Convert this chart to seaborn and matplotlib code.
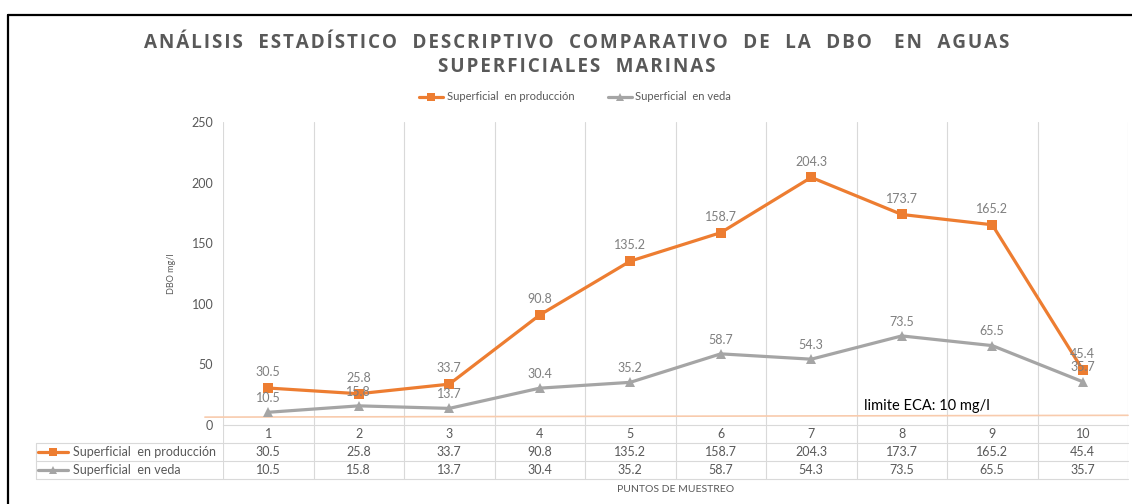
"""DBO en aguas superficiales marinas - gráfico de líneas con tabla de datos"""
import numpy as np
import pandas as pd
import matplotlib.pyplot as plt
from matplotlib.lines import Line2D
import seaborn as sns

# Datos
puntos = [1, 2, 3, 4, 5, 6, 7, 8, 9, 10]
produccion = [30.5, 25.8, 33.7, 90.8, 135.2, 158.7, 204.3, 173.7, 165.2, 45.4]
veda = [10.5, 15.8, 13.7, 30.4, 35.2, 58.7, 54.3, 73.5, 65.5, 35.7]
serie_prod = 'Superficial  en producción'
serie_veda = 'Superficial  en veda'
limite_x = [0.3, 10.5]
limite_y = [6.5, 8.0]
limite_txt = 'limite ECA: 10 mg/l'
y_ticks = [0, 50, 100, 150, 200, 250]
titulo_1 = 'ANÁLISIS  ESTADÍSTICO  DESCRIPTIVO  COMPARATIVO  DE  LA  DBO   EN  AGUAS'
titulo_2 = 'SUPERFICIALES  MARINAS'

df = pd.DataFrame({'punto': puntos * 2,
                   'dbo': produccion + veda,
                   'serie': [serie_prod] * 10 + [serie_veda] * 10})

# Estilo
sns.set_style('white')
plt.rcParams['font.family'] = ['Lato', 'DejaVu Sans']
NARANJA = '#ED7D31'
GRIS = '#A5A5A5'
TEXTO = '#595959'
REJILLA = '#D9D9D9'

W_PX, H_PX = 1132, 504
fig = plt.figure(figsize=(W_PX / 100, H_PX / 100), dpi=100)

# Posición del área de trazado (pixeles)
x0, x1, y_top, y_bot = 223, 1128, 122, 425
L, R = x0 / W_PX, x1 / W_PX
ax = fig.add_axes([L, 1 - y_bot / H_PX, R - L, (y_bot - y_top) / H_PX])

sns.lineplot(data=df, x='punto', y='dbo', hue='serie', style='serie',
             palette={serie_prod: NARANJA, serie_veda: GRIS},
             markers={serie_prod: 's', serie_veda: '^'}, dashes=False,
             markersize=7, markeredgewidth=0, linewidth=2.3, ax=ax, legend=False)

ax.set_xlim(0.5, 10.5)
ax.set_ylim(0, 250)
ax.set_yticks(y_ticks)
ax.set_xticks([])
ax.tick_params(axis='y', length=0, pad=7, labelsize=9, labelcolor=TEXTO)
ax.set_xlabel('')
ax.set_ylabel('DBO mg/l', fontsize=6.5, color=TEXTO, labelpad=11)
for s in ['top', 'right', 'left']:
    ax.spines[s].set_visible(False)
ax.spines['bottom'].set_color(REJILLA)
for b in np.arange(0.5, 11.5, 1):
    ax.axvline(b, color=REJILLA, lw=0.8, zorder=0)

# Etiquetas de datos
for p, v in zip(puntos, produccion):
    ax.annotate(f'{v}', (p, v), xytext=(0, 7), textcoords='offset points',
                ha='center', va='bottom', fontsize=9, color='#7F7F7F')
for p, v in zip(puntos, veda):
    ax.annotate(f'{v}', (p, v), xytext=(0, 6), textcoords='offset points',
                ha='center', va='bottom', fontsize=9, color='#7F7F7F')

# Línea límite ECA
ax.plot(limite_x, limite_y, color='#F8CBAD', lw=1.2, clip_on=False, zorder=1)
ax.text(7.58, 9.5, limite_txt, fontsize=10.5, color='black', va='bottom')

# Leyenda
handles = [Line2D([], [], color=NARANJA, marker='s', lw=2.3, ms=6, mew=0),
           Line2D([], [], color=GRIS, marker='^', lw=2.3, ms=6, mew=0)]
fig.legend(handles, [serie_prod, serie_veda], loc='center', bbox_to_anchor=(0.508, 1 - 97 / H_PX),
           ncol=2, frameon=False, fontsize=8, labelcolor=TEXTO, handlelength=2.2,
           columnspacing=3, handletextpad=0.3)

# Título (con espaciado entre letras)
for txt, ypx in [(titulo_1, 48), (titulo_2, 72)]:
    fig.text(577 / W_PX, 1 - ypx / H_PX, '\u200a'.join(txt), ha='center', va='baseline',
             fontsize=13.6, fontweight='bold', color=TEXTO,
             family=['Open Sans', 'DejaVu Sans'])

# Tabla de datos
t_bot = 479
tax = fig.add_axes([L, 1 - t_bot / H_PX, R - L, (t_bot - y_bot) / H_PX])
tax.set_xlim(0.5, 10.5)
tax.set_ylim(0, 3)
tax.axis('off')
banda = (x1 - x0) / 10
x_izq = 0.5 + (36 - x0) / banda
for b in np.arange(0.5, 11.5, 1):
    tax.plot([b, b], [0, 3], color=REJILLA, lw=0.8)
for yy in [0, 1, 2]:
    tax.plot([x_izq, 10.5], [yy, yy], color=REJILLA, lw=0.8, clip_on=False)
tax.plot([x_izq, x_izq], [0, 2], color=REJILLA, lw=0.8, clip_on=False)
for i, p in enumerate(puntos):
    tax.text(p, 2.5, str(p), ha='center', va='center', fontsize=9, color=TEXTO)
    tax.text(p, 1.5, f'{produccion[i]}', ha='center', va='center', fontsize=9, color=TEXTO)
    tax.text(p, 0.5, f'{veda[i]}', ha='center', va='center', fontsize=9, color=TEXTO)
k0 = 0.5 + (38 - x0) / banda
k1 = 0.5 + (68 - x0) / banda
kt = 0.5 + (73 - x0) / banda
for yy, col, mk, name in [(1.5, NARANJA, 's', serie_prod), (0.5, GRIS, '^', serie_veda)]:
    tax.plot([k0, k1], [yy, yy], color=col, lw=2.3, clip_on=False)
    tax.plot([(k0 + k1) / 2], [yy], color=col, marker=mk, ms=6, mew=0, clip_on=False)
    tax.text(kt, yy, name, ha='left', va='center', fontsize=9, color=TEXTO)

fig.text(676 / W_PX, 1 - 489 / H_PX, 'PUNTOS DE MUESTREO',
         ha='center', va='center', fontsize=7.5, color=TEXTO)

# Marco exterior
fig.add_artist(Line2D([8 / W_PX, 8 / W_PX], [0, 1 - 15 / H_PX], color='black', lw=1.6))
fig.add_artist(Line2D([8 / W_PX, 1], [1 - 15 / H_PX, 1 - 15 / H_PX], color='black', lw=1.6))

fig.savefig('out.png', dpi=100)
